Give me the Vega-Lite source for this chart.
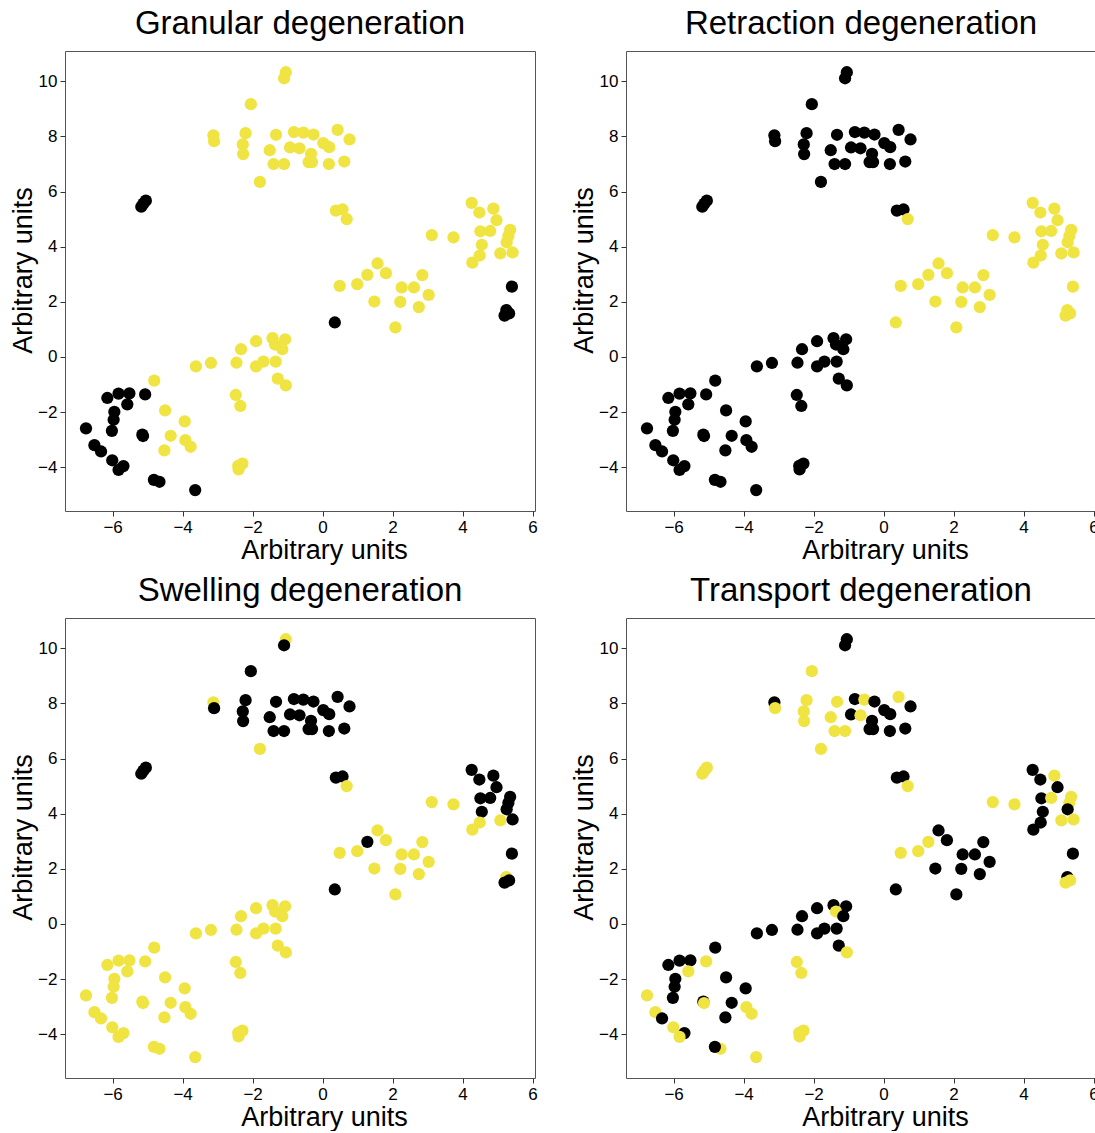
{
"$schema": "https://vega.github.io/schema/vega-lite/v6.json",
"padding": {"left": 9, "top": 7, "right": 0, "bottom": 0},
"datasets": {"pts": [
{"x":-1.05,"y":10.33,"g":0,"r":1,"s":0,"t":1},
{"x":-1.10,"y":10.11,"g":0,"r":1,"s":1,"t":1},
{"x":-2.05,"y":9.17,"g":0,"r":1,"s":1,"t":0},
{"x":-3.12,"y":8.04,"g":0,"r":1,"s":0,"t":1},
{"x":-3.10,"y":7.83,"g":0,"r":1,"s":1,"t":0},
{"x":-2.20,"y":8.12,"g":0,"r":1,"s":1,"t":0},
{"x":-2.28,"y":7.71,"g":0,"r":1,"s":1,"t":0},
{"x":-2.27,"y":7.36,"g":0,"r":1,"s":1,"t":0},
{"x":-1.33,"y":8.06,"g":0,"r":1,"s":1,"t":0},
{"x":-1.51,"y":7.50,"g":0,"r":1,"s":1,"t":0},
{"x":-1.40,"y":7.00,"g":0,"r":1,"s":1,"t":0},
{"x":-1.10,"y":7.00,"g":0,"r":1,"s":1,"t":0},
{"x":-0.93,"y":7.60,"g":0,"r":1,"s":1,"t":1},
{"x":-0.82,"y":8.16,"g":0,"r":1,"s":1,"t":1},
{"x":-0.66,"y":7.57,"g":0,"r":1,"s":1,"t":0},
{"x":-0.55,"y":8.14,"g":0,"r":1,"s":1,"t":0},
{"x":-0.26,"y":8.07,"g":0,"r":1,"s":1,"t":1},
{"x":0.43,"y":8.24,"g":0,"r":1,"s":1,"t":0},
{"x":0.77,"y":7.89,"g":0,"r":1,"s":1,"t":1},
{"x":0.02,"y":7.76,"g":0,"r":1,"s":1,"t":1},
{"x":0.19,"y":7.61,"g":0,"r":1,"s":1,"t":1},
{"x":-0.33,"y":7.37,"g":0,"r":1,"s":1,"t":1},
{"x":-0.40,"y":7.07,"g":0,"r":1,"s":1,"t":1},
{"x":-0.30,"y":7.07,"g":0,"r":1,"s":1,"t":1},
{"x":0.18,"y":7.00,"g":0,"r":1,"s":1,"t":1},
{"x":0.62,"y":7.09,"g":0,"r":1,"s":1,"t":1},
{"x":0.38,"y":5.31,"g":0,"r":1,"s":1,"t":1},
{"x":0.57,"y":5.35,"g":0,"r":1,"s":1,"t":1},
{"x":0.69,"y":5.00,"g":0,"r":0,"s":0,"t":0},
{"x":-1.79,"y":6.35,"g":0,"r":1,"s":0,"t":0},
{"x":-5.18,"y":5.45,"g":1,"r":1,"s":1,"t":0},
{"x":-5.12,"y":5.56,"g":1,"r":1,"s":1,"t":0},
{"x":-5.05,"y":5.67,"g":1,"r":1,"s":1,"t":0},
{"x":4.26,"y":5.59,"g":0,"r":0,"s":1,"t":1},
{"x":4.48,"y":5.24,"g":0,"r":0,"s":1,"t":1},
{"x":4.88,"y":5.38,"g":0,"r":0,"s":1,"t":0},
{"x":4.97,"y":4.96,"g":0,"r":0,"s":1,"t":1},
{"x":4.51,"y":4.56,"g":0,"r":0,"s":1,"t":1},
{"x":4.79,"y":4.57,"g":0,"r":0,"s":1,"t":0},
{"x":5.36,"y":4.61,"g":0,"r":0,"s":1,"t":0},
{"x":5.31,"y":4.39,"g":0,"r":0,"s":1,"t":0},
{"x":5.26,"y":4.16,"g":0,"r":0,"s":1,"t":1},
{"x":4.55,"y":4.07,"g":0,"r":0,"s":1,"t":1},
{"x":5.08,"y":3.76,"g":0,"r":0,"s":0,"t":0},
{"x":5.43,"y":3.79,"g":0,"r":0,"s":1,"t":0},
{"x":4.49,"y":3.68,"g":0,"r":0,"s":0,"t":1},
{"x":4.28,"y":3.42,"g":0,"r":0,"s":0,"t":1},
{"x":3.12,"y":4.42,"g":0,"r":0,"s":0,"t":0},
{"x":3.74,"y":4.34,"g":0,"r":0,"s":0,"t":0},
{"x":1.57,"y":3.39,"g":0,"r":0,"s":0,"t":1},
{"x":1.28,"y":2.98,"g":0,"r":0,"s":1,"t":0},
{"x":1.81,"y":3.04,"g":0,"r":0,"s":0,"t":1},
{"x":2.85,"y":2.97,"g":0,"r":0,"s":0,"t":1},
{"x":0.49,"y":2.58,"g":0,"r":0,"s":0,"t":0},
{"x":0.99,"y":2.64,"g":0,"r":0,"s":0,"t":0},
{"x":2.26,"y":2.52,"g":0,"r":0,"s":0,"t":1},
{"x":2.61,"y":2.52,"g":0,"r":0,"s":0,"t":1},
{"x":5.41,"y":2.55,"g":1,"r":0,"s":1,"t":1},
{"x":3.03,"y":2.25,"g":0,"r":0,"s":0,"t":1},
{"x":1.48,"y":2.01,"g":0,"r":0,"s":0,"t":1},
{"x":2.22,"y":2.00,"g":0,"r":0,"s":0,"t":1},
{"x":2.75,"y":1.81,"g":0,"r":0,"s":0,"t":1},
{"x":2.08,"y":1.07,"g":0,"r":0,"s":0,"t":1},
{"x":0.35,"y":1.25,"g":1,"r":0,"s":1,"t":1},
{"x":5.25,"y":1.70,"g":1,"r":0,"s":0,"t":1},
{"x":5.20,"y":1.50,"g":1,"r":0,"s":1,"t":0},
{"x":5.33,"y":1.58,"g":1,"r":0,"s":1,"t":0},
{"x":-4.81,"y":-0.86,"g":0,"r":1,"s":0,"t":1},
{"x":-3.62,"y":-0.34,"g":0,"r":1,"s":0,"t":1},
{"x":-3.19,"y":-0.22,"g":0,"r":1,"s":0,"t":1},
{"x":-2.46,"y":-0.21,"g":0,"r":1,"s":0,"t":1},
{"x":-2.33,"y":0.28,"g":0,"r":1,"s":0,"t":1},
{"x":-1.90,"y":0.57,"g":0,"r":1,"s":0,"t":1},
{"x":-1.43,"y":0.68,"g":0,"r":1,"s":0,"t":1},
{"x":-1.07,"y":0.64,"g":0,"r":1,"s":0,"t":1},
{"x":-1.36,"y":0.45,"g":0,"r":1,"s":0,"t":0},
{"x":-1.15,"y":0.28,"g":0,"r":1,"s":0,"t":1},
{"x":-1.69,"y":-0.17,"g":0,"r":1,"s":0,"t":1},
{"x":-1.90,"y":-0.34,"g":0,"r":1,"s":0,"t":1},
{"x":-1.34,"y":-0.17,"g":0,"r":1,"s":0,"t":1},
{"x":-1.28,"y":-0.79,"g":0,"r":1,"s":0,"t":1},
{"x":-1.05,"y":-1.03,"g":0,"r":1,"s":0,"t":0},
{"x":-2.48,"y":-1.38,"g":0,"r":1,"s":0,"t":0},
{"x":-2.35,"y":-1.78,"g":0,"r":1,"s":0,"t":0},
{"x":-2.41,"y":-3.95,"g":0,"r":1,"s":0,"t":0},
{"x":-2.29,"y":-3.87,"g":0,"r":1,"s":0,"t":0},
{"x":-2.40,"y":-4.08,"g":0,"r":1,"s":0,"t":0},
{"x":-4.50,"y":-1.94,"g":0,"r":1,"s":0,"t":1},
{"x":-3.94,"y":-2.34,"g":0,"r":1,"s":0,"t":1},
{"x":-4.34,"y":-2.86,"g":0,"r":1,"s":0,"t":1},
{"x":-3.92,"y":-3.02,"g":0,"r":1,"s":0,"t":0},
{"x":-3.77,"y":-3.26,"g":0,"r":1,"s":0,"t":0},
{"x":-4.52,"y":-3.39,"g":0,"r":1,"s":0,"t":1},
{"x":-6.15,"y":-1.49,"g":1,"r":1,"s":0,"t":1},
{"x":-5.83,"y":-1.33,"g":1,"r":1,"s":0,"t":1},
{"x":-5.52,"y":-1.32,"g":1,"r":1,"s":0,"t":1},
{"x":-5.58,"y":-1.72,"g":1,"r":1,"s":0,"t":0},
{"x":-5.07,"y":-1.36,"g":1,"r":1,"s":0,"t":0},
{"x":-5.95,"y":-1.99,"g":1,"r":1,"s":0,"t":1},
{"x":-5.97,"y":-2.28,"g":1,"r":1,"s":0,"t":1},
{"x":-6.02,"y":-2.68,"g":1,"r":1,"s":0,"t":1},
{"x":-6.76,"y":-2.59,"g":1,"r":1,"s":0,"t":0},
{"x":-5.15,"y":-2.82,"g":1,"r":1,"s":0,"t":1},
{"x":-5.13,"y":-2.87,"g":1,"r":1,"s":0,"t":0},
{"x":-6.52,"y":-3.20,"g":1,"r":1,"s":0,"t":0},
{"x":-6.33,"y":-3.43,"g":1,"r":1,"s":0,"t":1},
{"x":-6.01,"y":-3.75,"g":1,"r":1,"s":0,"t":0},
{"x":-5.69,"y":-3.96,"g":1,"r":1,"s":0,"t":1},
{"x":-5.83,"y":-4.10,"g":1,"r":1,"s":0,"t":0},
{"x":-4.66,"y":-4.53,"g":1,"r":1,"s":0,"t":0},
{"x":-4.82,"y":-4.46,"g":1,"r":1,"s":0,"t":1},
{"x":-3.64,"y":-4.83,"g":1,"r":1,"s":0,"t":0}
]},
"config": {
  "view": {"stroke": "#555555", "strokeWidth": 1},
  "axis": {"domain": false, "grid": false, "tickColor": "#333333", "tickSize": 5, "labelFont": "Liberation Sans", "labelFontSize": 17, "labelColor": "#000000", "labelFlush": false, "labelPadding": 3, "titleFont": "Liberation Sans", "titleFontSize": 27, "titleFontWeight": "normal", "titleColor": "#000000"},
  "axisX": {"titlePadding": 2, "titleX": 259},
  "axisY": {"titlePadding": 0, "titleY": 219},
  "title": {"font": "Liberation Sans", "fontSize": 33, "fontWeight": "normal", "color": "#000000", "offset": 10}
},
"columns": 2,
"spacing": {"row": 10, "column": 32},
"concat": [
{"title": "Granular degeneration", "width": 470, "height": 460, "data": {"name": "pts"},
 "mark": {"type": "circle", "size": 150, "opacity": 1},
 "encoding": {
  "x": {"field": "x", "type": "quantitative", "scale": {"domain": [-7.36, 6.07], "nice": false, "zero": false}, "axis": {"values": [-6,-4,-2,0,2,4,6], "title": "Arbitrary units"}},
  "y": {"field": "y", "type": "quantitative", "scale": {"domain": [-5.59, 11.1], "nice": false, "zero": false}, "axis": {"values": [-4,-2,0,2,4,6,8,10], "title": "Arbitrary units"}},
  "color": {"field": "g", "type": "nominal", "scale": {"domain": [0,1], "range": ["#F0E442","#000000"]}, "legend": null}}},
{"title": "Retraction degeneration", "width": 470, "height": 460, "data": {"name": "pts"},
 "mark": {"type": "circle", "size": 150, "opacity": 1},
 "encoding": {
  "x": {"field": "x", "type": "quantitative", "scale": {"domain": [-7.36, 6.07], "nice": false, "zero": false}, "axis": {"values": [-6,-4,-2,0,2,4,6], "title": "Arbitrary units"}},
  "y": {"field": "y", "type": "quantitative", "scale": {"domain": [-5.59, 11.1], "nice": false, "zero": false}, "axis": {"values": [-4,-2,0,2,4,6,8,10], "title": "Arbitrary units"}},
  "color": {"field": "r", "type": "nominal", "scale": {"domain": [0,1], "range": ["#F0E442","#000000"]}, "legend": null}}},
{"title": "Swelling degeneration", "width": 470, "height": 460, "data": {"name": "pts"},
 "mark": {"type": "circle", "size": 150, "opacity": 1},
 "encoding": {
  "x": {"field": "x", "type": "quantitative", "scale": {"domain": [-7.36, 6.07], "nice": false, "zero": false}, "axis": {"values": [-6,-4,-2,0,2,4,6], "title": "Arbitrary units"}},
  "y": {"field": "y", "type": "quantitative", "scale": {"domain": [-5.59, 11.1], "nice": false, "zero": false}, "axis": {"values": [-4,-2,0,2,4,6,8,10], "title": "Arbitrary units"}},
  "color": {"field": "s", "type": "nominal", "scale": {"domain": [0,1], "range": ["#F0E442","#000000"]}, "legend": null}}},
{"title": "Transport degeneration", "width": 470, "height": 460, "data": {"name": "pts"},
 "mark": {"type": "circle", "size": 150, "opacity": 1},
 "encoding": {
  "x": {"field": "x", "type": "quantitative", "scale": {"domain": [-7.36, 6.07], "nice": false, "zero": false}, "axis": {"values": [-6,-4,-2,0,2,4,6], "title": "Arbitrary units"}},
  "y": {"field": "y", "type": "quantitative", "scale": {"domain": [-5.59, 11.1], "nice": false, "zero": false}, "axis": {"values": [-4,-2,0,2,4,6,8,10], "title": "Arbitrary units"}},
  "color": {"field": "t", "type": "nominal", "scale": {"domain": [0,1], "range": ["#F0E442","#000000"]}, "legend": null}}}
],
"resolve": {"scale": {"color": "independent"}}
}
